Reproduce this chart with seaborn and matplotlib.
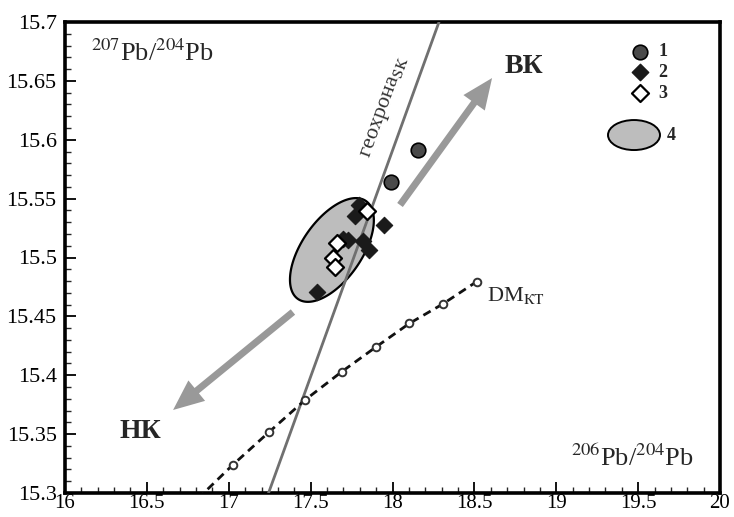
import numpy as np
import pandas as pd
import matplotlib
matplotlib.use("Agg")
import matplotlib.pyplot as plt
from matplotlib.ticker import MultipleLocator, FormatStrFormatter
from matplotlib.patches import Ellipse
import seaborn as sns

# --- data -------------------------------------------------------------
# group 1: circles
g1_x = [17.99, 18.155]
g1_y = [15.564, 15.591]
# group 2: filled diamonds
g2_x = [17.797, 17.771, 17.950, 17.700, 17.730, 17.818, 17.858, 17.541]
g2_y = [15.545, 15.535, 15.528, 15.516, 15.515, 15.514, 15.506, 15.471]
# group 3: open diamonds
g3_x = [17.846, 17.659, 17.635, 17.649]
g3_y = [15.5395, 15.512, 15.500, 15.492]
# field 4: ellipse (centre and two conjugate half-axes)
field_center = (17.63, 15.5064)
field_axis_a = (0.2076, 0.0416)
field_axis_b = (0.1500, -0.0145)

# depleted-mantle evolution curve (DM_KT)
dm_x = [16.81, 17.024, 17.248, 17.466, 17.690, 17.899, 18.103, 18.307, 18.514]
dm_y = [15.295, 15.3238, 15.352, 15.379, 15.403, 15.424, 15.444, 15.4605, 15.4795]

# geochron (Stacey-Kramers)
geochron_x = [17.243, 18.284]
geochron_y = [15.30, 15.70]

# trend arrows: start -> tip
arrow_up = ((18.046, 15.5446), (18.608, 15.6524))
arrow_down = ((17.392, 15.4537), (16.660, 15.3705))

x_ticks = [16, 16.5, 17, 17.5, 18, 18.5, 19, 19.5, 20]
y_ticks = [15.3, 15.35, 15.4, 15.45, 15.5, 15.55, 15.6, 15.65, 15.7]

# --- style ------------------------------------------------------------
sns.set_theme(style="ticks")
plt.rcParams["font.family"] = ["Liberation Serif", "DejaVu Serif"]
plt.rcParams["mathtext.fontset"] = "stix"

fig = plt.figure(figsize=(7.34, 5.17), dpi=100)
ax = fig.add_axes([65 / 734, 24 / 517, 655 / 734, 471 / 517])

ax.set_xlim(16, 20)
ax.set_ylim(15.3, 15.7)
ax.set_xticks(x_ticks)
ax.set_yticks(y_ticks)
ax.xaxis.set_major_formatter(FormatStrFormatter("%g"))
ax.yaxis.set_major_formatter(FormatStrFormatter("%g"))
ax.xaxis.set_minor_locator(MultipleLocator(0.1))
ax.yaxis.set_minor_locator(MultipleLocator(0.01))
ax.tick_params(which="major", direction="in", length=8, width=1.3,
               colors="black", top=False, right=False)
ax.tick_params(axis="y", which="major", labelsize=16, pad=6)
ax.tick_params(axis="x", which="major", labelsize=15, pad=1)
ax.tick_params(which="minor", direction="in", length=4, width=1.0,
               top=False, right=False)
for s in ax.spines.values():
    s.set_linewidth(2.6)
    s.set_color("black")
ax.set_xlabel("")
ax.set_ylabel("")

# field 4
t = np.linspace(0, 2 * np.pi, 300)
ex = field_center[0] + field_axis_a[0] * np.cos(t) + field_axis_b[0] * np.sin(t)
ey = field_center[1] + field_axis_a[1] * np.cos(t) + field_axis_b[1] * np.sin(t)
ax.fill(ex, ey, facecolor="#bdbdbd", edgecolor="black", linewidth=1.6, zorder=2)

# geochron
sns.lineplot(x=geochron_x, y=geochron_y, ax=ax, color="#707070", linewidth=2.0,
             sort=False, zorder=3)

# DM curve
sns.lineplot(x=dm_x, y=dm_y, ax=ax, sort=False, color="#111111", linewidth=2.0,
             linestyle=(0, (3, 2)), marker="o", markersize=5.5,
             markerfacecolor="white", markeredgecolor="#333333",
             markeredgewidth=1.4, zorder=3)

# trend arrows
for (start, tip) in (arrow_up, arrow_down):
    ax.annotate("", xy=tip, xytext=start,
                arrowprops=dict(arrowstyle="simple,head_length=2.2,head_width=1.9,tail_width=0.5",
                                mutation_scale=10, color="#999999", lw=0,
                                shrinkA=0, shrinkB=0), zorder=3)

# samples
sns.scatterplot(x=g2_x, y=g2_y, ax=ax, marker="D", s=70, color="#1a1a1a",
                edgecolor="#1a1a1a", linewidth=0.8, zorder=5)
sns.scatterplot(x=g3_x, y=g3_y, ax=ax, marker="D", s=75, color="white",
                edgecolor="black", linewidth=1.6, zorder=6)
sns.scatterplot(x=g1_x, y=g1_y, ax=ax, marker="o", s=110, color="#4a4a4a",
                edgecolor="black", linewidth=1.2, zorder=6)

# annotations
ax.text(0.04, 0.935, r"$^{207}$Pb/$^{204}$Pb", transform=ax.transAxes,
        fontsize=19, ha="left", va="center")
ax.text(0.96, 0.075, r"$^{206}$Pb/$^{204}$Pb", transform=ax.transAxes,
        fontsize=19, ha="right", va="center")
ax.text(0.70, 0.905, "ВК", transform=ax.transAxes, fontsize=20,
        fontweight="bold", ha="center", va="center")
ax.text(0.115, 0.13, "НК", transform=ax.transAxes, fontsize=20,
        fontweight="bold", ha="center", va="center")
ax.text(0.645, 0.42, r"DM$_{\mathrm{КТ}}$", transform=ax.transAxes,
        fontsize=16, ha="left", va="center")
ax.text(0.49, 0.82, r"геохрона$_{\mathrm{SK}}$", transform=ax.transAxes,
        fontsize=16, ha="center", va="center", rotation=70, color="#333333")

# legend
leg_x = 0.8779
leg_rows = [0.937, 0.893, 0.849]
ax.scatter([leg_x], [leg_rows[0]], transform=ax.transAxes, marker="o", s=110,
           color="#4a4a4a", edgecolor="black", linewidth=1.2, zorder=7, clip_on=False)
ax.scatter([leg_x], [leg_rows[1]], transform=ax.transAxes, marker="D", s=70,
           color="#1a1a1a", edgecolor="#1a1a1a", zorder=7, clip_on=False)
ax.scatter([leg_x], [leg_rows[2]], transform=ax.transAxes, marker="D", s=75,
           color="white", edgecolor="black", linewidth=1.6, zorder=7, clip_on=False)
for lbl, yy in zip(["1", "2", "3"], leg_rows):
    ax.text(leg_x + 0.028, yy, lbl, transform=ax.transAxes, fontsize=13,
            fontweight="bold", ha="left", va="center")
ax.add_patch(Ellipse((0.8687, 0.760), 52 / 655, 30 / 471, transform=ax.transAxes,
                     facecolor="#bdbdbd", edgecolor="black", linewidth=1.4, zorder=7))
ax.text(0.918, 0.758, "4", transform=ax.transAxes, fontsize=13,
        fontweight="bold", ha="left", va="center")

fig.savefig("out.png", dpi=100, facecolor="white")
